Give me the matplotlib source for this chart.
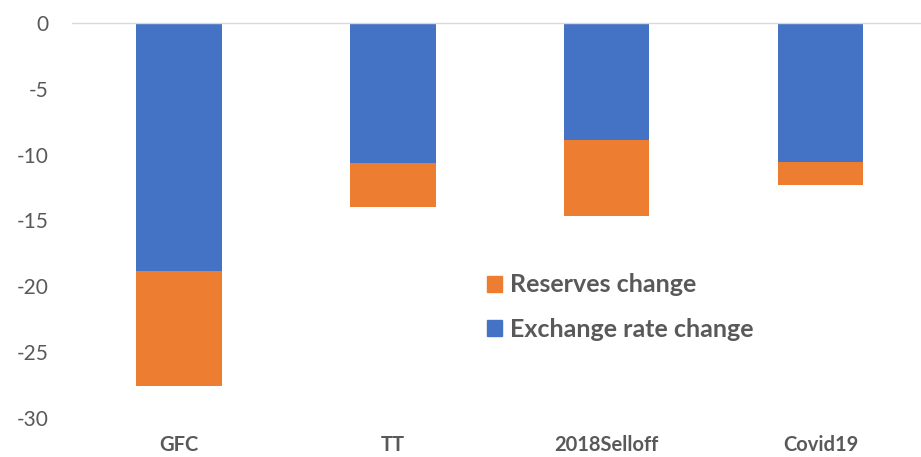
import matplotlib
matplotlib.use("Agg")
import matplotlib.pyplot as plt
from matplotlib.patches import Patch

categories = ["GFC", "TT", "2018Selloff", "Covid19"]
exchange_rate_change = [-18.8, -10.6, -8.9, -10.55]
reserves_change = [-8.8, -3.4, -5.75, -1.75]
y_ticks = [0, -5, -10, -15, -20, -25, -30]

BLUE = "#4472C4"
ORANGE = "#ED7D31"
TEXT = "#595959"

plt.rcParams["font.family"] = ["Lato", "DejaVu Sans"]

W, H = 921, 457
fig = plt.figure(figsize=(W / 100, H / 100), dpi=100)
ax = fig.add_axes([72 / W, (H - 418) / H, (W - 72) / W, (418 - 23) / H])

x = list(range(len(categories)))
ax.bar(x, exchange_rate_change, width=0.4, color=BLUE, zorder=2)
ax.bar(x, reserves_change, width=0.4, bottom=exchange_rate_change,
       color=ORANGE, zorder=2)

ax.set_ylim(-30, 0)
ax.set_xlim(-0.5, 3.47)
ax.set_yticks(y_ticks)
ax.set_yticklabels([str(v) for v in y_ticks])
ax.set_xticks(x)
ax.set_xticklabels(categories, fontweight="bold")

ax.tick_params(axis="y", length=0, pad=17, labelsize=15, labelcolor=TEXT)
ax.tick_params(axis="x", length=0, pad=12, labelsize=14.5, labelcolor=TEXT)

for side in ("left", "right", "bottom"):
    ax.spines[side].set_visible(False)
ax.spines["top"].set_color("#D9D9D9")
ax.spines["top"].set_linewidth(1.0)

handles = [Patch(color=ORANGE, label="Reserves change"),
           Patch(color=BLUE, label="Exchange rate change")]
leg = ax.legend(handles=handles, loc="center left",
                bbox_to_anchor=(474 / W, 1 - 307 / H),
                bbox_transform=fig.transFigure,
                frameon=False, handlelength=0.6, handleheight=0.6,
                handletextpad=0.35, labelspacing=0.85, borderpad=0,
                prop={"size": 18, "weight": "bold"})
for t in leg.get_texts():
    t.set_color(TEXT)

fig.savefig("out.png", dpi=100)
